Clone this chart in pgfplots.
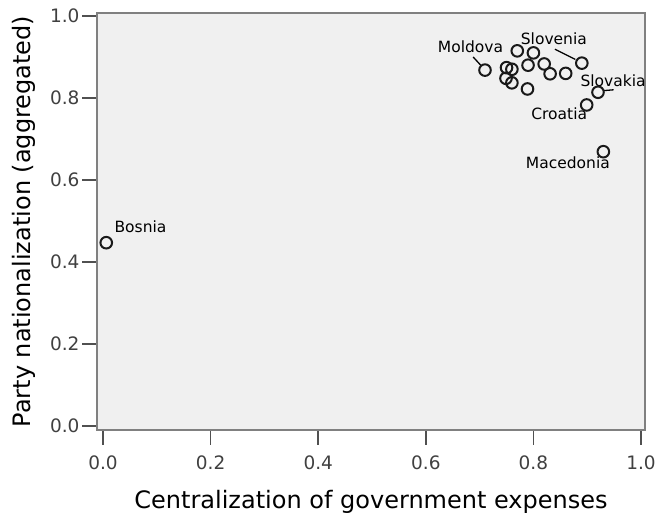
\documentclass[border=0pt]{standalone}
\usepackage{fontspec}
\setmainfont{DejaVu Sans}
\usepackage{pgfplots}
\pgfplotsset{compat=1.18}
\definecolor{bgfill}{HTML}{F0F0F0}
\definecolor{framecol}{HTML}{808080}
\definecolor{tickcol}{HTML}{505050}
\begin{document}
\begin{tikzpicture}
\path[use as bounding box] (-97pt,-83pt) rectangle (560pt,430pt);
\begin{axis}[
  scale only axis,
  width=548pt, height=417pt,
  xmin=-0.0112, xmax=1.0074,
  ymin=-0.0098, ymax=1.0073,
  axis background/.style={fill=bgfill},
  axis line style={draw=framecol, line width=1.2pt},
  xtick={0,0.2,...,1.0}, ytick={0,0.2,...,1.0},
  xtick pos=bottom, ytick pos=left,
  tick align=outside,
  major tick length=15pt,
  every tick/.style={draw=tickcol, line width=1.5pt},
  /pgf/number format/assume math mode=true,
  /pgf/number format/fixed, /pgf/number format/fixed zerofill,
  /pgf/number format/precision=1,
  ticklabel style={font=\fontsize{18.5}{20}\selectfont, text=black!75},
  xticklabel style={yshift=-7pt},
  yticklabel style={xshift=1pt},
  xlabel={Centralization of government expenses},
  ylabel={Party nationalization (aggregated)},
  label style={font=\fontsize{24}{26}\selectfont},
  xlabel style={yshift=-14pt},
  ylabel style={yshift=8pt},
  clip=false,
]
\addplot[only marks, mark=o, mark size=5.8pt, mark options={line width=2pt, draw=black!90}] coordinates {
(0.710,0.868) (0.770,0.915) (0.800,0.910) (0.750,0.874) (0.760,0.870)
(0.749,0.848) (0.760,0.837) (0.790,0.880) (0.820,0.883) (0.831,0.859)
(0.860,0.860) (0.890,0.885) (0.789,0.822) (0.920,0.814) (0.899,0.783)
(0.930,0.669) (0.006,0.447)
};
\draw[black, line width=1.3pt] (axis cs:0.688,0.900) -- (axis cs:0.702,0.880);
\draw[black, line width=1.3pt] (axis cs:0.840,0.919) -- (axis cs:0.878,0.894);
\draw[black, line width=1.3pt] (axis cs:0.931,0.818) -- (axis cs:0.949,0.820);
\begin{scope}[every node/.style={font=\fontsize{15.5}{17}\selectfont, anchor=base, inner sep=0pt}]
\node at (axis cs:0.683,0.911) {Moldova};
\node at (axis cs:0.838,0.931) {Slovenia};
\node at (axis cs:0.948,0.828) {Slovakia};
\node at (axis cs:0.848,0.748) {Croatia};
\node at (axis cs:0.864,0.629) {Macedonia};
\node at (axis cs:0.0697,0.471) {Bosnia};
\end{scope}
\end{axis}
\end{tikzpicture}
\end{document}
